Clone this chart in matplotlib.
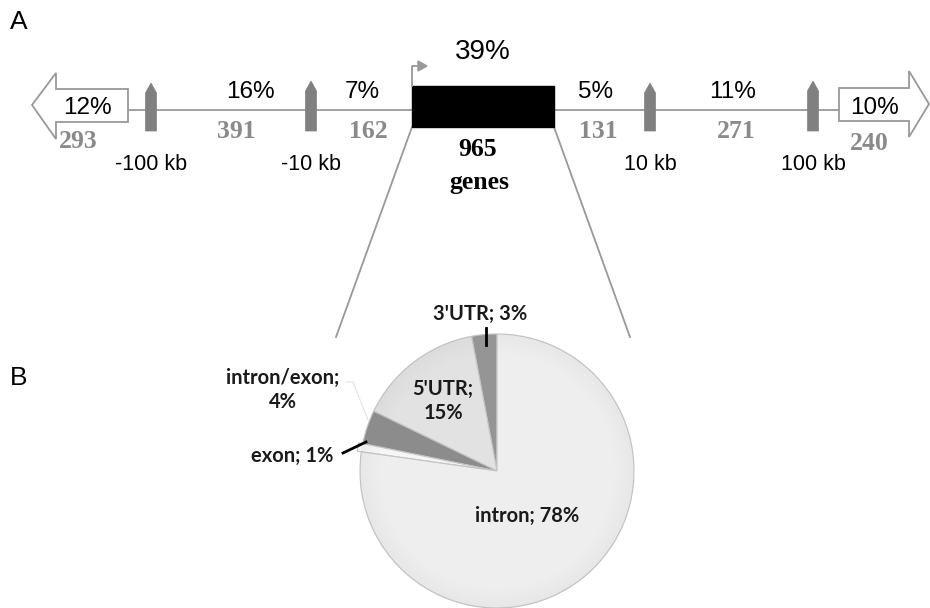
import matplotlib
matplotlib.use("Agg")
import matplotlib.pyplot as plt
from matplotlib.patches import Polygon, Rectangle

# ---------------- data ----------------
region_pct = ["12%", "16%", "7%", "39%", "5%", "11%", "10%"]
region_counts = ["293", "391", "162", "965", "131", "271", "240"]
marker_labels = ["-100 kb", "-10 kb", "10 kb", "100 kb"]

pie_labels = ["3'UTR", "5'UTR", "intron/exon", "exon", "intron"]
pie_values = [3, 15, 4, 1, 78]
pie_colors = ["#959595", "#e2e2e2", "#8c8c8c", "#f6f6f6", "#eeeeee"]

# ---------------- figure ----------------
W, H = 930, 608
fig = plt.figure(figsize=(W / 100, H / 100), dpi=100)

# ---------------- pie (drawn first, underneath) ----------------
cx, cy, R = 497, 471, 137
pax = fig.add_axes([(cx - R) / W, (H - cy - R) / H, 2 * R / W, 2 * R / H])
explode = [0, 0, 0, 0.03, 0]
wedges, _ = pax.pie(pie_values, colors=pie_colors, startangle=90, counterclock=True,
                    explode=explode,
                    wedgeprops=dict(edgecolor="#c4c4c4", linewidth=0.8))
for k in range(12):
    r = 1.0 - k * 0.012
    circ = plt.Circle((0, 0), r, fill=False, ec="#9a9a9a", lw=1.3, alpha=0.07 * (12 - k) / 12)
    pax.add_patch(circ)
pax.set_xlim(-1, 1)
pax.set_ylim(-1, 1)
pax.set_aspect("equal")
pax.axis("off")

# ---------------- main overlay axes ----------------
ax = fig.add_axes([0, 0, 1, 1])
ax.set_xlim(0, W)
ax.set_ylim(H, 0)
ax.axis("off")

gray = "#999999"
dgray = "#808080"
numgray = "#8a8a8a"
ly = 110

ax.plot([128, 412], [ly, ly], color=gray, lw=1.3, zorder=1)
ax.plot([554, 839], [ly, ly], color=gray, lw=1.3, zorder=1)

left_arrow = [(128, 89), (56, 89), (56, 73), (32, 105), (56, 139), (56, 122), (128, 122)]
ax.add_patch(Polygon(left_arrow, closed=True, fc="white", ec=gray, lw=1.3, zorder=2))
right_arrow = [(839, 88), (909, 88), (909, 71), (929, 104), (909, 137), (909, 121), (839, 121)]
ax.add_patch(Polygon(right_arrow, closed=True, fc="white", ec=gray, lw=1.3, zorder=2))

ax.add_patch(Rectangle((412, 86), 142, 41, fc="black", ec="black", zorder=3))
ax.plot([412, 412, 419], [86, 66, 66], color=gray, lw=1.3, zorder=3)
ax.add_patch(Polygon([(418, 61), (427, 66), (418, 71)], closed=True, fc=gray, ec=gray, zorder=3))

marker_x = [151, 311, 650, 813]
marker_top = [83, 81, 83, 81]
for mx, mt in zip(marker_x, marker_top):
    pts = [(mx - 5.5, 131), (mx - 5.5, mt + 10), (mx, mt), (mx + 5.5, mt + 10), (mx + 5.5, 131)]
    ax.add_patch(Polygon(pts, closed=True, fc=dgray, ec=dgray, lw=0.5, zorder=3))

for mx, lab in zip(marker_x, marker_labels):
    ax.text(mx, 164, lab, ha="center", va="center", fontsize=15.5, family="Liberation Sans")

pct_pos = [(87, 108), (250, 92), (362, 92), (483, 52), (596, 92), (733, 92), (874, 108)]
pct_size = [17.5, 17.5, 17.5, 20, 17.5, 17.5, 17.5]
for (px, py), t, fs in zip(pct_pos, region_pct, pct_size):
    ax.text(px, py, t, ha="center", va="center", fontsize=fs, family="Liberation Sans")

cnt_pos = [(78, 141), (236, 132), (368, 132), (478, 150), (598, 132), (736, 132), (869, 143)]
for i, ((px, py), t) in enumerate(zip(cnt_pos, region_counts)):
    col = "black" if i == 3 else numgray
    ax.text(px, py, t, ha="center", va="center", fontsize=18.5, fontweight="bold",
            family="Liberation Serif", color=col)
ax.text(479, 182, "genes", ha="center", va="center", fontsize=18.5, fontweight="bold",
        family="Liberation Serif")

ax.plot([412, 336], [127, 337], color=gray, lw=1.3)
ax.plot([554, 630], [127, 337], color=gray, lw=1.3)

ax.text(19, 22, "A", ha="center", va="center", fontsize=19, family="Liberation Sans")
ax.text(19, 378, "B", ha="center", va="center", fontsize=19, family="Liberation Sans")

# pie labels
lab_font = dict(family="Lato", fontweight="bold", fontsize=14.5, color="#1a1a1a")
ax.text(480, 314, f"{pie_labels[0]}; {pie_values[0]}%", ha="center", va="center", **lab_font)
ax.text(443, 401, f"{pie_labels[1]};\n{pie_values[1]}%", ha="center", va="center",
        linespacing=1.3, **lab_font)
ax.text(283, 390, f"{pie_labels[2]};\n{pie_values[2]}%", ha="center", va="center",
        linespacing=1.3, **lab_font)
ax.text(292, 456, f"{pie_labels[3]}; {pie_values[3]}%", ha="center", va="center", **lab_font)
ax.text(527, 516, f"{pie_labels[4]}; {pie_values[4]}%", ha="center", va="center", **lab_font)

# leader lines
ax.plot([486, 486], [328, 345], color="black", lw=2)
ax.plot([343, 366], [453, 442], color="black", lw=2)
ax.plot([346, 353, 368], [382, 382, 420], color="#e2e2e2", lw=0.8)

fig.savefig("out.png", dpi=100)
